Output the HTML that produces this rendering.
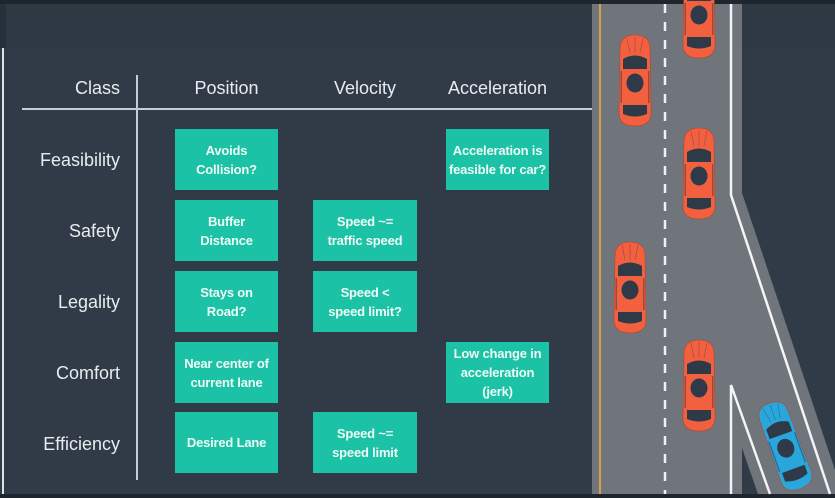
<!DOCTYPE html>
<html><head><meta charset="utf-8"><style>
html,body{margin:0;padding:0}
body{width:835px;height:498px;position:relative;overflow:hidden;background:#313b47;font-family:"Liberation Sans",sans-serif}
.t{position:absolute;color:#e8ecef;font-size:18px}
.h{top:78px;text-align:center}
.r{left:0;width:120px;text-align:right}
.b{position:absolute;background:#1cc2a5;color:#eefaf7;font-weight:bold;font-size:13px;line-height:19px;display:flex;align-items:center;justify-content:center;text-align:center;height:61px;letter-spacing:-0.2px;white-space:nowrap}
.p{left:175px;width:103px}.v{left:313px;width:104px}.a{left:446px;width:103px}
</style></head><body>
<div style="position:absolute;left:0;top:0;width:835px;height:4px;background:#1e252d"></div>
<div style="position:absolute;left:0;top:4px;width:835px;height:44px;background:#2f3944"></div>
<div style="position:absolute;left:0;top:4px;width:6px;height:44px;background:#26303a"></div>
<div style="position:absolute;left:0;top:494px;width:835px;height:4px;background:#1e252d"></div>
<div style="position:absolute;left:2px;top:48px;width:2px;height:446px;background:#dfe3e6"></div>
<div style="position:absolute;left:22px;top:108px;width:570px;height:2px;background:#c8cdd2"></div>
<div style="position:absolute;left:136px;top:75px;width:2px;height:405px;background:#c8cdd2"></div>
<div class="t h" style="left:50px;width:70px;text-align:right">Class</div>
<div class="t h" style="left:165px;width:123px">Position</div>
<div class="t h" style="left:303px;width:124px">Velocity</div>
<div class="t h" style="left:436px;width:123px">Acceleration</div>
<div class="t r" style="top:150px">Feasibility</div>
<div class="t r" style="top:221px">Safety</div>
<div class="t r" style="top:292px">Legality</div>
<div class="t r" style="top:363px">Comfort</div>
<div class="t r" style="top:434px">Efficiency</div>
<div class="b p" style="top:129px">Avoids<br>Collision?</div>
<div class="b a" style="top:129px">Acceleration is<br>feasible for car?</div>
<div class="b p" style="top:200px">Buffer<br>Distance</div>
<div class="b v" style="top:200px">Speed ~=<br>traffic speed</div>
<div class="b p" style="top:271px">Stays on<br>Road?</div>
<div class="b v" style="top:271px">Speed &lt;<br>speed limit?</div>
<div class="b p" style="top:342px">Near center of<br>current lane</div>
<div class="b a" style="top:342px">Low change in<br>acceleration<br>(jerk)</div>
<div class="b p" style="top:412px">Desired Lane</div>
<div class="b v" style="top:412px">Speed ~=<br>speed limit</div>
<svg style="position:absolute;left:0;top:0" width="835" height="498">
<defs>
<g id="car">
<path d="M3,14 Q3,0 18,0 Q33,0 33,14 L34,78 Q34,91 18,91 Q2,91 2,78 Z" fill="currentColor" stroke="#b84428" stroke-width="0.6"/>
<path d="M6,24 Q18,17 30,24 L30,34 L6,34 Z" fill="#2e3a48"/>
<ellipse cx="18" cy="48" rx="8.5" ry="9.5" fill="#2e3a48"/>
<path d="M6,70 L30,70 L30,79 Q18,84 6,79 Z" fill="#2e3a48"/>
<path d="M10,3 L13,18 M18,2 L18,18 M26,3 L23,18" stroke="#2e3a48" stroke-width="0.6" opacity=".5"/>
<rect x="3.5" y="36" width="1.5" height="32" fill="#2e3a48" opacity=".5"/>
<rect x="31" y="36" width="1.5" height="32" fill="#2e3a48" opacity=".5"/>
</g>
</defs>
<rect x="592" y="4" width="150" height="490" fill="#70747b"/>
<polygon points="741,190 835,470 835,494 742,494" fill="#70747b"/>
<polygon points="742,448 742,494 758,494" fill="#313b47"/>
<line x1="600" y1="4" x2="600" y2="494" stroke="#d9a04a" stroke-width="2"/>
<line x1="665" y1="4" x2="665" y2="494" stroke="#eef0f2" stroke-width="2.5" stroke-dasharray="9,9"/>
<polyline points="731,4 731,195 830,494" fill="none" stroke="#f2f4f6" stroke-width="2.5"/>
<polyline points="731,494 731,385 770,494" fill="none" stroke="#f2f4f6" stroke-width="2.5"/>
<use href="#car" x="617" y="35" style="color:#f2603f"/>
<use href="#car" x="681" y="-33" style="color:#f2603f"/>
<use href="#car" x="681" y="128" style="color:#f2603f"/>
<use href="#car" x="612" y="242" style="color:#f2603f"/>
<use href="#car" x="681" y="340" style="color:#f2603f"/>
<g transform="translate(786,446) rotate(-20) translate(-19,-46)"><use href="#car" x="0" y="0" style="color:#29a6dc"/></g>
</svg>
</body></html>
